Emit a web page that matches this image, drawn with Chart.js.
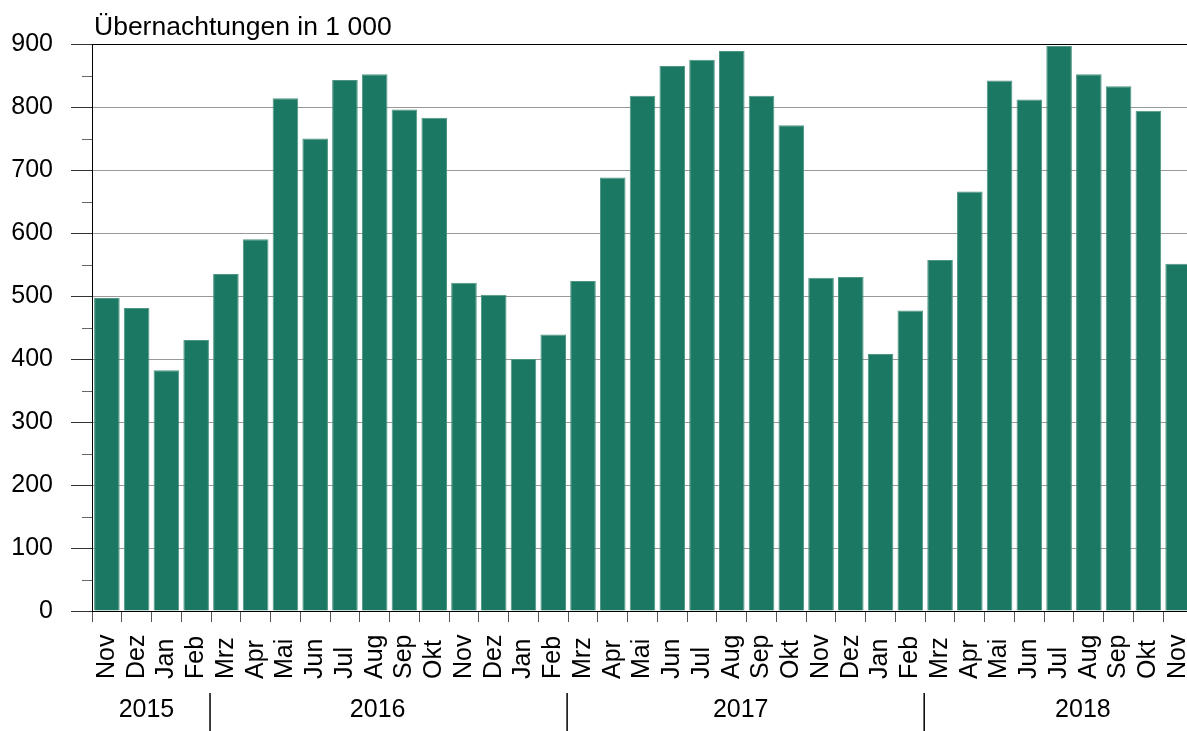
<!DOCTYPE html>
<html lang="de">
<head>
<meta charset="utf-8">
<title>Übernachtungen in 1 000</title>
<script src="https://cdn.jsdelivr.net/npm/chart.js@4.4.1/dist/chart.umd.min.js"></script>
<style>
  html, body { margin: 0; padding: 0; background: #fff; overflow: hidden; }
  #wrap { width: 1187px; height: 731px; overflow: hidden; }
</style>
</head>
<body>
<div id="wrap"><canvas id="chart" width="1193" height="731"></canvas></div>
<script>
const titleText = "Übernachtungen in 1 000";

const months = [
  "Nov", "Dez",
  "Jan", "Feb", "Mrz", "Apr", "Mai", "Jun", "Jul", "Aug", "Sep", "Okt", "Nov", "Dez",
  "Jan", "Feb", "Mrz", "Apr", "Mai", "Jun", "Jul", "Aug", "Sep", "Okt", "Nov", "Dez",
  "Jan", "Feb", "Mrz", "Apr", "Mai", "Jun", "Jul", "Aug", "Sep", "Okt", "Nov",
];

const overnightStays = [
  497, 481,
  382, 430, 535, 590, 814, 750, 843, 852, 796, 783, 521, 502,
  400, 439, 524, 688, 818, 865, 875, 889, 818, 771, 529, 530,
  408, 477, 557, 666, 842, 812, 897, 852, 833, 794, 551,
];

const years = ["2015", "2016", "2017", "2018"];
// index of the first month in each year block after the first one
const yearBreaks = [4, 16, 28];

const yMin = 0;
const yMax = 900;
const yStep = 100;

const fontFamily = '"Liberation Sans", Arial, Helvetica, sans-serif';
Chart.defaults.font.family = fontFamily;
Chart.defaults.color = "#000";

// month labels bottom-aligned, year row, minor ticks and the title
const axisDecor = {
  id: "axisDecor",
  afterDraw(chart, args, opts) {
    const { ctx, scales } = chart;
    const x = scales.x;
    const y = scales.y;
    const pitch = x.width / months.length;
    ctx.save();

    // minor ticks halfway between the major ones
    ctx.strokeStyle = "#666";
    ctx.lineWidth = 1;
    const major = y.ticks.map((t) => t.value);
    for (let i = 0; i < major.length - 1; i++) {
      const py = Math.round(y.getPixelForValue((major[i] + major[i + 1]) / 2)) + 0.5;
      ctx.beginPath();
      ctx.moveTo(x.left - 10, py);
      ctx.lineTo(x.left, py);
      ctx.stroke();
    }

    // month labels, read bottom-to-top, all starting on one line
    ctx.fillStyle = "#000";
    ctx.font = `25px ${fontFamily}`;
    ctx.textAlign = "left";
    ctx.textBaseline = "middle";
    months.forEach((m, i) => {
      ctx.save();
      ctx.translate(x.getPixelForValue(i), x.top + 68);
      ctx.rotate(-Math.PI / 2);
      ctx.fillText(m, 0, 0);
      ctx.restore();
    });

    // separators between the years
    ctx.strokeStyle = "#000";
    ctx.lineWidth = 1.5;
    yearBreaks.forEach((b) => {
      const px = x.getPixelForValue(b) - pitch / 2 - 1;
      ctx.beginPath();
      ctx.moveTo(px, x.top + 82);
      ctx.lineTo(px, chart.height);
      ctx.stroke();
    });

    // year labels
    ctx.textAlign = "center";
    years.forEach((yr, i) => {
      ctx.fillText(yr, x.getPixelForValue(opts.yearAt[i]), x.top + 99);
    });

    // title above the plot
    ctx.font = `26.5px ${fontFamily}`;
    ctx.textAlign = "left";
    ctx.textBaseline = "alphabetic";
    ctx.fillText(titleText, 94, 35);

    ctx.restore();
  },
};

new Chart(document.getElementById("chart"), {
  type: "bar",
  data: {
    labels: months,
    datasets: [
      {
        label: titleText,
        data: overnightStays,
        backgroundColor: "#1b7862",
        borderColor: "#4f9583",
        borderWidth: 1,
        borderSkipped: "bottom",
        barPercentage: 0.86,
        categoryPercentage: 1,
      },
    ],
  },
  options: {
    responsive: false,
    animation: false,
    devicePixelRatio: 1,
    layout: { padding: { top: 44, right: 0, bottom: 0, left: 0 } },
    plugins: {
      legend: { display: false },
      tooltip: { enabled: false },
      title: { display: false },
      axisDecor: { yearAt: [1.33, 9.1, 21.3, 32.8] },
    },
    scales: {
      x: {
        offset: true,
        grid: {
          offset: true,
          drawOnChartArea: false,
          drawTicks: true,
          tickLength: 11,
          color: "#555",
          tickColor: "#555",
        },
        border: { display: true, color: "#000", width: 1 },
        ticks: { display: false },
        afterFit: (s) => {
          s.height = 120;
        },
      },
      y: {
        min: yMin,
        max: yMax,
        grid: {
          color: (c) => (c.tick.value === yMax || c.tick.value === yMin ? "#000" : "#999"),
          tickColor: "#333",
          tickLength: 21,
          lineWidth: 1,
        },
        border: { display: true, color: "#000", width: 1 },
        ticks: {
          stepSize: yStep,
          padding: 18,
          color: "#000",
          font: { size: 25 },
        },
        afterFit: (s) => {
          s.width = 92;
        },
      },
    },
  },
  plugins: [axisDecor],
});
</script>
</body>
</html>
